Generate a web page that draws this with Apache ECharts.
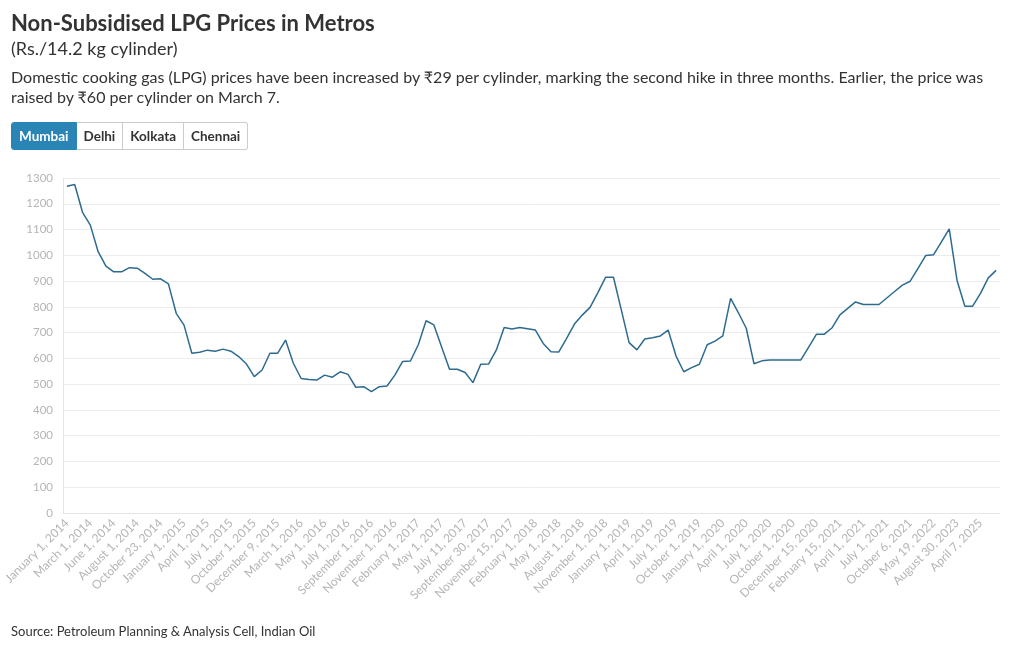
<!DOCTYPE html>
<html>
<head>
<meta charset="utf-8">
<script src="https://cdn.jsdelivr.net/npm/echarts@6/dist/echarts.min.js"></script>
<style>
    body { margin: 0; background: #fff; font-family: Lato, "Noto Sans", sans-serif; color: #333; }
    #chart { position: absolute; left: 0; top: 0; width: 1020px; height: 650px; }
    .head { position: absolute; left: 11px; top: 9px; width: 1000px; z-index: 2; }
    .head h1 { margin: 0; font-size: 22px; font-weight: 700; color: #333; line-height: 28px; }
    .head .unit { font-size: 18px; line-height: 22px; color: #333; }
    .head p { margin: 8px 0 0 0; font-size: 16px; line-height: 20px; color: #333; }
    .btns { position: absolute; left: 11px; top: 122px; z-index: 2; display: flex; }
    .btns span { display: inline-block; height: 26px; line-height: 26px; padding: 0 7px; font-size: 13.5px; font-weight: 700;
        border: 1px solid #ccc; border-left: none; background: #fff; color: #333; }
    .btns span:first-child { border-left: 1px solid #ccc; border-radius: 3px 0 0 3px; }
    .btns span:last-child { border-radius: 0 3px 3px 0; }
    .btns span.on { background: #2a84b6; color: #fff; border-color: #2a84b6; }
    .src { position: absolute; left: 11px; top: 623px; font-size: 13px; color: #333; z-index: 2; }
</style>
</head>
<body>
<div class="head">
    <h1>Non-Subsidised LPG Prices in Metros</h1>
    <div class="unit">(Rs./14.2 kg cylinder)</div>
    <p>Domestic cooking gas (LPG) prices have been increased by ₹29 per cylinder, marking the second hike in three months. Earlier, the price was raised by ₹60 per cylinder on March 7.</p>
</div>
<div class="btns"><span class="on">Mumbai</span><span>Delhi</span><span>Kolkata</span><span>Chennai</span></div>
<div id="chart"></div>
<div class="src">Source: Petroleum Planning &amp; Analysis Cell, Indian Oil</div>
<script>
// 日期
var dates = [
    "January 1, 2014", "February 1, 2014", "February 15, 2014", "March 1, 2014", "April 1, 2014", "May 1, 2014",
    "June 1, 2014", "June 25, 2014", "July 1, 2014", "August 1, 2014", "September 1, 2014", "October 1, 2014",
    "October 23, 2014", "November 1, 2014", "December 1, 2014", "January 1, 2015", "February 1, 2015", "March 1, 2015",
    "April 1, 2015", "May 1, 2015", "June 1, 2015", "July 1, 2015", "August 1, 2015", "September 1, 2015",
    "October 1, 2015", "November 1, 2015", "December 1, 2015", "December 9, 2015", "January 1, 2016", "February 1, 2016",
    "March 1, 2016", "April 1, 2016", "April 5, 2016", "May 1, 2016", "June 1, 2016", "June 10, 2016",
    "July 1, 2016", "August 1, 2016", "August 20, 2016", "September 1, 2016", "October 1, 2016", "October 15, 2016",
    "November 1, 2016", "December 1, 2016", "January 1, 2017", "February 1, 2017", "March 1, 2017", "April 1, 2017",
    "May 1, 2017", "June 1, 2017", "July 1, 2017", "July 11, 2017", "August 1, 2017", "September 1, 2017",
    "September 30, 2017", "October 1, 2017", "November 1, 2017", "November 15, 2017", "December 1, 2017", "January 1, 2018",
    "February 1, 2018", "March 1, 2018", "April 1, 2018", "May 1, 2018", "June 1, 2018", "July 1, 2018",
    "August 1, 2018", "September 1, 2018", "October 1, 2018", "November 1, 2018", "November 7, 2018", "December 1, 2018",
    "January 1, 2019", "February 1, 2019", "March 1, 2019", "April 1, 2019", "May 1, 2019", "June 1, 2019",
    "July 1, 2019", "August 1, 2019", "September 1, 2019", "October 1, 2019", "November 1, 2019", "December 1, 2019",
    "January 1, 2020", "February 12, 2020", "March 1, 2020", "April 1, 2020", "May 1, 2020", "June 1, 2020",
    "July 1, 2020", "August 1, 2020", "September 1, 2020", "October 1, 2020", "November 1, 2020", "December 2, 2020",
    "December 15, 2020", "January 1, 2021", "February 4, 2021", "February 15, 2021", "February 25, 2021", "March 1, 2021",
    "April 1, 2021", "May 1, 2021", "June 1, 2021", "July 1, 2021", "August 17, 2021", "September 1, 2021",
    "October 6, 2021", "March 22, 2022", "May 7, 2022", "May 19, 2022", "July 6, 2022", "March 1, 2023",
    "August 30, 2023", "March 9, 2024", "January 1, 2025", "April 7, 2025", "March 7, 2026", "May 1, 2026"
];

// 孟买价格
var mumbai = [
    1268, 1275, 1167, 1117, 1014, 958, 936, 936, 952, 950, 930, 907,
    909, 889, 775, 729, 620, 624, 632, 628, 636, 628, 607, 578,
    529, 555, 620, 620, 671, 581, 522, 518, 516, 535, 527, 548,
    538, 488, 490, 471, 490, 493, 535, 588, 590, 653, 746, 730,
    643, 558, 558, 545, 506, 577, 578, 633, 720, 714, 720, 715,
    710, 658, 626, 625, 678, 733, 768, 798, 855, 915, 915, 788,
    661, 633, 675, 680, 687, 710, 610, 548, 564, 577, 653, 667,
    687, 833, 777, 717, 579, 590.5, 594, 594, 594, 594, 594, 644,
    694, 694, 719, 769, 794, 819, 809, 809, 809, 834.5, 859.5, 884.5,
    899.5, 949.5, 999.5, 1002.5, 1052.5, 1102.5, 902.5, 802.5, 802.5, 852.5, 912.5, 941.5
];

var yTicks = [0, 1300, 100];

var chart = echarts.init(document.getElementById('chart'));
var option = {
    animation: false,
    textStyle: { fontFamily: 'Lato, "Noto Sans", sans-serif' },
    grid: { left: 63, right: 20, top: 178, bottom: 137 },
    tooltip: { trigger: 'axis' },
    xAxis: {
        type: 'category',
        boundaryGap: true,
        data: dates,
        axisLine: { lineStyle: { color: '#e6e6e6' } },
        axisTick: { interval: 0, length: 6, lineStyle: { color: '#e6e6e6' } },
        axisLabel: { interval: 2, rotate: 45, color: '#b5b5b5', fontSize: 12, margin: 8 }
    },
    yAxis: {
        type: 'value',
        min: yTicks[0],
        max: yTicks[1],
        interval: yTicks[2],
        axisLine: { show: true, lineStyle: { color: '#e6e6e6' } },
        axisTick: { show: false },
        axisLabel: { color: '#b5b5b5', fontSize: 11.5, margin: 10, formatter: function (v) { return String(v); } },
        splitLine: { lineStyle: { color: '#ececec' } }
    },
    series: [{
        name: 'Mumbai',
        type: 'line',
        data: mumbai,
        symbol: 'none',
        lineStyle: { color: '#2d6b90', width: 1.5 }
    }]
};
chart.setOption(option);
</script>
</body>
</html>
